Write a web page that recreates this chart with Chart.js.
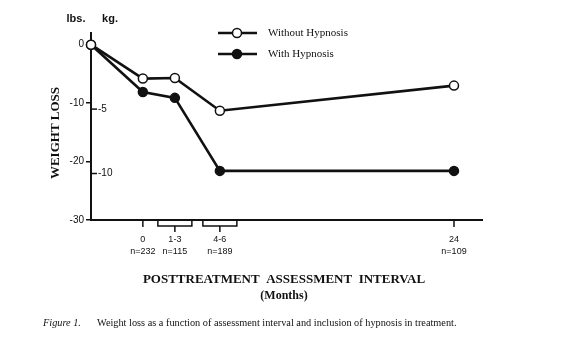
<!DOCTYPE html>
<html>
<head>
<meta charset="utf-8">
<script src="https://cdn.jsdelivr.net/npm/chart.js@4.4.1/dist/chart.umd.min.js"></script>
<style>
  html, body { margin: 0; padding: 0; background: #fff; }
  #wrap { width: 568px; height: 352px; }
</style>
</head>
<body>
<div id="wrap"><canvas id="c" width="568" height="352"></canvas></div>
<script>
const intervalLabels  = ['', '0', '1-3', '4-6', '24'];          // months after treatment
const sampleSizes     = ['', 'n=232', 'n=115', 'n=189', 'n=109'];
const xPositions      = [-4.0, 0, 2.47, 5.94, 24];              // where each point sits on the axis
const withoutHypnosis = [0, -5.8, -5.7, -11.3, -7.0];           // lbs
const withHypnosis    = [0, -8.1, -9.1, -21.6, -21.6];          // lbs
const lbsTicks = [-30, -20, -10, 0];
const kgTicks  = [-5, -10];
const LBS_PER_KG = 2.2046;
const bracketed = ['1-3', '4-6'];

const INK   = '#111';
const SERIF = '"Liberation Serif", "Times New Roman", serif';
const SANS  = '"Liberation Sans", Arial, sans-serif';

const toPoints = vals => xPositions.map((x, i) => ({ x, y: vals[i] }));

// ——— extra drawing: x tick marks / brackets, kg axis, titles, legend, caption ———
const decorations = {
  id: 'decorations',
  afterDraw(chart) {
    const { ctx, scales: { x, y } } = chart;
    const axisY = y.bottom;
    ctx.save();
    ctx.strokeStyle = INK;
    ctx.fillStyle = INK;

    // x tick marks, bracketed intervals
    ctx.lineWidth = 1.5;
    xPositions.forEach((v, i) => {
      if (!intervalLabels[i]) return;
      const px = x.getPixelForValue(v);
      ctx.beginPath();
      if (bracketed.includes(intervalLabels[i])) {
        ctx.moveTo(px - 17, axisY);
        ctx.lineTo(px - 17, axisY + 6);
        ctx.lineTo(px + 17, axisY + 6);
        ctx.lineTo(px + 17, axisY);
        ctx.moveTo(px, axisY + 6);
        ctx.lineTo(px, axisY + 12);
      } else {
        ctx.moveTo(px, axisY);
        ctx.lineTo(px, axisY + 7);
      }
      ctx.stroke();
    });

    // kg ticks on the right side of the y axis
    ctx.font = '10px ' + SANS;
    ctx.textAlign = 'left';
    ctx.textBaseline = 'middle';
    kgTicks.forEach(kg => {
      const py = y.getPixelForValue(kg * LBS_PER_KG);
      ctx.beginPath();
      ctx.moveTo(y.right, py);
      ctx.lineTo(y.right + 6, py);
      ctx.stroke();
      ctx.fillText(String(kg), y.right + 7, py);
    });

    // unit headers
    ctx.font = 'bold 11px ' + SANS;
    ctx.textAlign = 'center';
    ctx.fillText('lbs.', 76, 19);
    ctx.fillText('kg.', 110, 19);

    // y title
    ctx.save();
    ctx.translate(56, 133);
    ctx.rotate(-Math.PI / 2);
    ctx.font = 'bold 13px ' + SERIF;
    ctx.fillText('WEIGHT LOSS', 0, 0);
    ctx.restore();

    // x title
    ctx.font = 'bold 13px ' + SERIF;
    ctx.fillText('POSTTREATMENT  ASSESSMENT  INTERVAL', 284, 280);
    ctx.font = 'bold 12px ' + SERIF;
    ctx.fillText('(Months)', 284, 296);

    // legend
    chart.data.datasets.forEach((ds, i) => {
      const ly = 33 + i * 21;
      ctx.lineWidth = 2.5;
      ctx.beginPath();
      ctx.moveTo(218, ly);
      ctx.lineTo(257, ly);
      ctx.stroke();
      ctx.beginPath();
      ctx.arc(237, ly, 4.5, 0, Math.PI * 2);
      ctx.fillStyle = ds.pointBackgroundColor;
      ctx.fill();
      ctx.lineWidth = 1.5;
      ctx.stroke();
      ctx.fillStyle = INK;
      ctx.textAlign = 'left';
      ctx.font = '11px ' + SERIF;
      ctx.fillText(ds.label, 268, ly);
    });

    // caption
    ctx.textAlign = 'left';
    ctx.font = 'italic 10.3px ' + SERIF;
    ctx.fillText('Figure 1.', 43, 323);
    ctx.font = '10.3px ' + SERIF;
    ctx.fillText('Weight loss as a function of assessment interval and inclusion of hypnosis in treatment.', 97, 323);
    ctx.restore();
  }
};

new Chart(document.getElementById('c'), {
  type: 'line',
  data: {
    datasets: [
      {
        label: 'Without Hypnosis',
        data: toPoints(withoutHypnosis),
        borderColor: INK, borderWidth: 2.6,
        pointRadius: 4.5, pointBackgroundColor: '#fff',
        pointBorderColor: INK, pointBorderWidth: 1.5,
        clip: false
      },
      {
        label: 'With Hypnosis',
        data: toPoints(withHypnosis),
        borderColor: INK, borderWidth: 2.6,
        pointRadius: 4.5, pointBackgroundColor: INK,
        pointBorderColor: INK, pointBorderWidth: 1.5,
        clip: false
      }
    ]
  },
  options: {
    responsive: false,
    animation: false,
    devicePixelRatio: 1,
    layout: { padding: { left: 0, top: 33, right: 86, bottom: 0 } },
    plugins: { legend: { display: false }, tooltip: { enabled: false } },
    scales: {
      x: {
        type: 'linear', min: xPositions[0], max: 26.16,
        afterBuildTicks: s => { s.ticks = xPositions.slice(1).map(v => ({ value: v })); },
        afterFit: s => { s.height = 132; },
        grid: { display: false, drawTicks: false },
        border: { display: true, color: INK, width: 2 },
        ticks: {
          padding: 14, color: INK, maxRotation: 0, autoSkip: false,
          font: { family: SANS, size: 9, lineHeight: 1.33 },
          callback: v => {
            const i = xPositions.indexOf(v);
            return [intervalLabels[i], sampleSizes[i]];
          }
        }
      },
      y: {
        min: -30, max: 2,
        afterBuildTicks: s => { s.ticks = lbsTicks.map(v => ({ value: v })); },
        afterFit: s => { s.width = 91; },
        grid: { display: true, drawOnChartArea: false, drawTicks: true, tickLength: 5, color: INK, lineWidth: 1.5 },
        border: { display: true, color: INK, width: 2 },
        ticks: { padding: 2, color: INK, font: { family: SANS, size: 10 } }
      }
    }
  },
  plugins: [decorations]
});
</script>
</body>
</html>
